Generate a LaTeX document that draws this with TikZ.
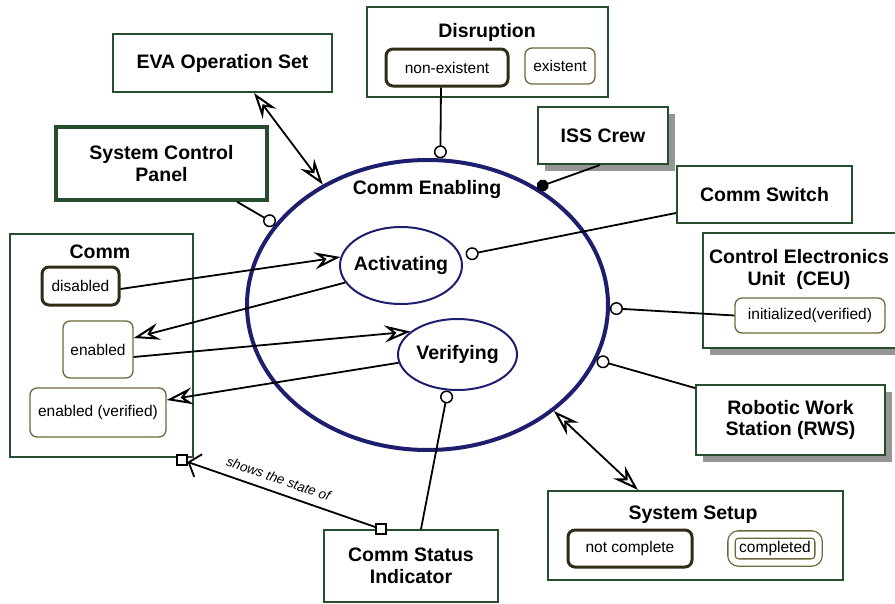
\documentclass[tikz,border=0pt]{standalone}
\usepackage{fontspec}
\setmainfont{Liberation Sans}
\usetikzlibrary{arrows.meta,shapes.geometric,shadows}

\definecolor{boxgreen}{RGB}{38,78,44}
\definecolor{stateolive}{RGB}{110,104,58}
\definecolor{statedark}{RGB}{48,44,22}
\definecolor{procblue}{RGB}{30,30,110}
\definecolor{shadowgray}{RGB}{150,150,150}

\newcommand\objfont{\fontsize{19.5pt}{21.5pt}\selectfont\bfseries}
\newcommand\stfont{\fontsize{15.5pt}{17pt}\selectfont}
\newcommand\tagfont{\itshape\fontsize{13.5pt}{15pt}\selectfont}

\begin{document}
\begin{tikzpicture}[x=1pt,y=-1pt,
  obj/.style={draw=boxgreen, line width=2pt, fill=white, inner sep=0pt,
    align=center, font=\objfont},
  phys/.style={drop shadow={shadow xshift=7pt, shadow yshift=-7pt,
    fill=shadowgray, opacity=1}},
  title/.style={font=\objfont, align=center, inner sep=0pt},
  stt/.style={draw=stateolive, line width=1.3pt, rounded corners=7pt,
    fill=white, inner sep=0pt, font=\stfont},
  initstt/.style={stt, draw=statedark, line width=3pt},
  proc/.style={ellipse, draw=procblue, line width=2pt, inner sep=0pt},
  link/.style={draw=black, line width=1.8pt},
  openhead/.tip={Stealth[open, length=26pt, width=17pt, inset=9pt, line width=2pt]},
  effect/.style={link, -openhead},
  biarrow/.style={link, openhead-openhead},
  instr/.style={link, -{Circle[length=13pt, fill=white, line width=1.5pt]}},
  agent/.style={link, -{Circle[length=12pt]}},
  tagsq/.style={draw=black, line width=1.2pt, fill=white, minimum size=10pt,
    inner sep=0pt},
]
\useasboundingbox (0,0) rectangle (895,603);

% objects and their states
\node[obj, minimum width=219pt, minimum height=58pt] (eva) at (222.5,63) {EVA Operation Set};
\node[obj, line width=3.5pt, minimum width=211pt, minimum height=73pt] (scp) at (161.5,163.5) {System Control\\Panel};

\node[obj, minimum width=183pt, minimum height=223pt] (comm) at (101.5,345.5) {};
\node[title] (commT) at (100,252) {Comm};
\node[initstt, minimum width=77pt, minimum height=38pt] (dis) at (80.5,286) {disabled};
\node[stt, minimum width=70pt, minimum height=57pt] (en) at (98,349.5) {enabled};
\node[stt, minimum width=136pt, minimum height=49pt] (env) at (98,412.5) {enabled (verified)};

\node[obj, minimum width=241pt, minimum height=90pt] (dsr) at (487.5,52) {};
\node[title] (dsrT) at (487,32) {Disruption};
\node[initstt, minimum width=122pt, minimum height=37pt] (nonex) at (447,67.5) {non-existent};
\node[stt, minimum width=70pt, minimum height=36pt] (ex) at (560,66) {existent};

\node[obj, phys, minimum width=130pt, minimum height=57pt] (iss) at (603,135.5) {ISS Crew};
\node[obj, minimum width=175pt, minimum height=57pt] (csw) at (764.5,194.5) {Comm Switch};

\node[obj, phys, minimum width=194pt, minimum height=115pt] (ceu) at (800,290.5) {};
\node[title] (ceuT) at (799,269.5) {Control Electronics\\Unit\ \ (CEU)};
\node[stt, minimum width=150pt, minimum height=35pt] (init) at (810,315.5) {initialized(verified)};

\node[obj, phys, minimum width=189pt, minimum height=70pt] (rws) at (790.5,420) {Robotic Work\\Station (RWS)};

\node[obj, minimum width=295pt, minimum height=89pt] (ss) at (695.5,535.5) {};
\node[title] (ssT) at (693,515) {System Setup};
\node[initstt, minimum width=124pt, minimum height=37pt] (nc) at (630,548.5) {not complete};
\node[stt, double=white, double distance=6pt, minimum width=87pt, minimum height=28pt] (cmp) at (775,548.5) {completed};

\node[obj, minimum width=174pt, minimum height=72pt] (csi) at (411,566) {Comm Status\\Indicator};

% processes
\node[proc, line width=4pt, minimum width=361pt, minimum height=290pt] (ce) at (427.5,305) {};
\node[title] (ceT) at (427,189) {Comm Enabling};
\node[proc, minimum width=122pt, minimum height=77pt,
  label={[name=actT, font=\objfont]center:Activating}] (act) at (401,265.5) {};
\node[proc, minimum width=119pt, minimum height=71pt,
  label={[name=verT, font=\objfont]center:Verifying}] (ver) at (457.5,354.5) {};

% procedural links
\draw[biarrow] ([xshift=31.5pt]eva.south) -- (ce.131);
\draw[instr] ([xshift=75.5pt]scp.south) -- (ce.152.5);
\draw[instr] ([xshift=-6pt]nonex.south) -- (ce.85);
\draw[agent] ([xshift=-3pt]iss.south) -- (ce.47);
\draw[instr] ([yshift=-18.5pt]csw.west) -- ([xshift=5pt]act.10);
\draw[instr] (init.west) -- (ce.-1.5);
\draw[instr] ([yshift=-4pt]rws.north west) -- (ce.-18.6);
\draw[biarrow] (ce.-40) -- ([xshift=-57.5pt]ss.north);
\draw[instr] ([xshift=10pt]csi.north) -- (ver.-105);

\draw[effect] ([yshift=-3pt]dis.east) -- (act.172);
\draw[effect] (act.197) -- ([yshift=11.5pt]en.east);
\draw[effect] ([yshift=-7.5pt]en.east) -- (ver.154.7);
\draw[effect] (ver.188) -- ([yshift=12.5pt]env.east);

% tagged structural link
\node[tagsq] (sqA) at (182,460) {};
\node[tagsq] (sqB) at (381,529) {};
\draw[link, {Straight Barb[length=10pt, width=24pt, line width=1.8pt]}-] (sqA) --
  node[pos=0.46, sloped, above=8pt, font=\tagfont, inner sep=0pt] (tagL) {shows the state of} (sqB);
\end{tikzpicture}
\end{document}
